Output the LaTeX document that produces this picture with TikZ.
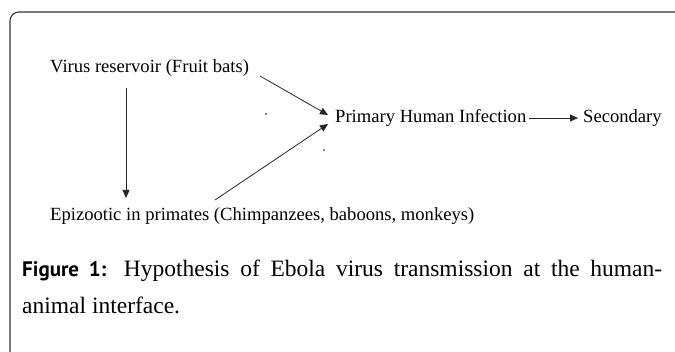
\documentclass[tikz,border=0pt]{standalone}
\usepackage{fontspec}
\setmainfont{Liberation Serif}
\newfontfamily\capsans{PT Sans}
\usetikzlibrary{arrows.meta}
\begin{document}
\begin{tikzpicture}[x=1pt,y=-1pt,
  lbl/.style={inner sep=0pt,anchor=west,font=\fontsize{18.6}{22}\selectfont},
  caption/.style={inner sep=0pt,anchor=west,font=\fontsize{23.5}{28}\selectfont},
  conn/.style={-{Triangle[length=8pt,width=7pt]},line width=0.8pt,black!85}]
\useasboundingbox (0,0) rectangle (675,352);
\fill[white] (0,0) rectangle (675,352);
\draw[line width=1.1pt,black!80] (10,353) -- (10,21) arc[start angle=180,end angle=270,radius=9] -- (676,12);
\node[lbl] (vr) at (50,68) {Virus reservoir (Fruit bats)};
\node[lbl] (phi) at (335,118) {Primary Human Infection};
\node[lbl] (sec) at (583,118) {Secondary};
\node[lbl] (epi) at (50,216) {Epizootic in primates (Chimpanzees, baboons, monkeys)};
\coordinate (a1) at (260,76);
\coordinate (a2) at (328,115);
\coordinate (b1) at (215,200);
\coordinate (b2) at (328,124);
\coordinate (c1) at (126,88);
\coordinate (c2) at (126,198);
\draw[conn] (a1) -- (a2);
\draw[conn] (b1) -- (b2);
\draw[conn] (c1) -- (c2);
\draw[conn] ([xshift=2pt]phi.east) -- ([xshift=-5pt]sec.west);
\fill (266,114) circle[radius=0.8];
\fill (324,150) circle[radius=0.8];
\node[caption] (cap1) at (22,271)
  {\makebox[640pt][s]{{\capsans\bfseries\fontsize{21}{26}\selectfont Figure~1:} Hypothesis of Ebola virus transmission at the human-}};
\node[caption] (cap2) at (22,305) {animal interface.};
\end{tikzpicture}
\end{document}
